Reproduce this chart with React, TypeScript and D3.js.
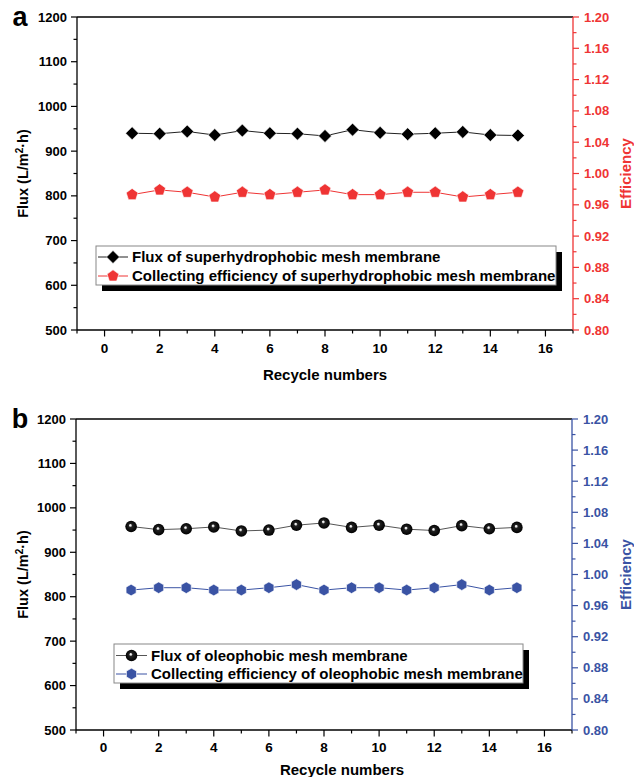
import React from "react";
import * as d3 from "d3";

const cycles = [1, 2, 3, 4, 5, 6, 7, 8, 9, 10, 11, 12, 13, 14, 15];
const fluxA = [940, 939, 944, 936, 946, 940, 939, 934, 948, 941, 938, 940, 943, 936, 935];
const effA = [0.973, 0.979, 0.976, 0.970, 0.976, 0.973, 0.976, 0.979, 0.973, 0.973, 0.976, 0.976, 0.970, 0.973, 0.976];
const fluxB = [958, 951, 953, 957, 948, 950, 961, 966, 956, 961, 952, 949, 960, 953, 956];
const effB = [0.980, 0.983, 0.983, 0.980, 0.980, 0.983, 0.987, 0.980, 0.983, 0.983, 0.980, 0.983, 0.987, 0.980, 0.983];
const fluxTicks = [500, 600, 700, 800, 900, 1000, 1100, 1200];
const effTicks = [0.8, 0.84, 0.88, 0.92, 0.96, 1.0, 1.04, 1.08, 1.12, 1.16, 1.2];
const xTicks = [0, 2, 4, 6, 8, 10, 12, 14, 16];
const legendA = ["Flux of superhydrophobic mesh membrane", "Collecting efficiency of superhydrophobic mesh membrane"];
const legendB = ["Flux of oleophobic mesh membrane", "Collecting efficiency of oleophobic mesh membrane"];

const RED = "#ef3434";
const BLUE = "#3a53a4";
const FONT = "'Liberation Sans', Arial, sans-serif";

function polyPath(n: number, r: number, rot: number) {
  const pts: [number, number][] = [];
  for (let i = 0; i < n; i++) {
    const a = rot + (i * 2 * Math.PI) / n;
    pts.push([r * Math.cos(a), r * Math.sin(a)]);
  }
  return "M" + pts.map((p) => p[0].toFixed(2) + "," + p[1].toFixed(2)).join("L") + "Z";
}
const diamond = polyPath(4, 6.5, -Math.PI / 2);
const pentagon = polyPath(5, 6.2, -Math.PI / 2);
const hexagon = polyPath(6, 5.8, -Math.PI / 2);

function Marker({ kind, x, y, color }: { kind: string; x: number; y: number; color: string }) {
  if (kind === "ball") {
    return <circle cx={x} cy={y} r={5.8} fill="url(#ballGrad)" />;
  }
  const d = kind === "diamond" ? diamond : kind === "pentagon" ? pentagon : hexagon;
  return <path d={d} transform={`translate(${x},${y})`} fill={color} stroke="white" strokeWidth={0.6} />;
}

type PanelProps = {
  label: string;
  left: number; right: number; top: number; bottom: number;
  flux: number[]; eff: number[];
  fluxMarker: string; effMarker: string; effColor: string;
  fluxLine: string;
  legend: string[];
  legBox: { x: number; y: number; w: number; h: number };
  legSym: { x0: number; x1: number };
  legRows: number[];
  xTitleX: number; xTitleY: number; xTickY: number;
};

function Panel(p: PanelProps) {
  const x = d3.scaleLinear().domain([-1, 17]).range([p.left, p.right]);
  const y = d3.scaleLinear().domain([500, 1200]).range([p.bottom, p.top]);
  const y2 = d3.scaleLinear().domain([0.8, 1.2]).range([p.bottom, p.top]);
  const fluxLine = d3.line<number>().x((_, i) => x(cycles[i])).y((v) => y(v))(p.flux) || "";
  const effLine = d3.line<number>().x((_, i) => x(cycles[i])).y((v) => y2(v))(p.eff) || "";
  const minorX = d3.range(-1, 18, 1).filter((v) => v % 2 !== 0);
  const minorY = d3.range(550, 1200, 100);
  const minorE = d3.range(0, 10).map((i) => 0.82 + i * 0.04);
  const midY = (p.top + p.bottom) / 2;
  const lx = (p.legSym.x0 + p.legSym.x1) / 2;
  return (
    <g fontFamily={FONT} fontWeight="bold">
      <text x={20} y={p.top + 9} fontSize={27} textAnchor="middle" fill="#000">{p.label}</text>
      {/* frame */}
      <line x1={p.left} x2={p.right} y1={p.top} y2={p.top} stroke="#000" strokeWidth={1.3} />
      <line x1={p.left} x2={p.right} y1={p.bottom} y2={p.bottom} stroke="#000" strokeWidth={1.3} />
      <line x1={p.left} x2={p.left} y1={p.top} y2={p.bottom} stroke="#000" strokeWidth={1.3} />
      <line x1={p.right} x2={p.right} y1={p.top} y2={p.bottom} stroke={p.effColor} strokeWidth={1.3} />
      {/* left ticks */}
      {fluxTicks.map((t) => (
        <g key={"fy" + t}>
          <line x1={p.left - 6} x2={p.left} y1={y(t)} y2={y(t)} stroke="#000" strokeWidth={1.2} />
          <text x={p.left - 10} y={y(t) + 4.5} fontSize={13} textAnchor="end">{t}</text>
        </g>
      ))}
      {minorY.map((t) => (
        <line key={"my" + t} x1={p.left - 3.5} x2={p.left} y1={y(t)} y2={y(t)} stroke="#000" strokeWidth={1.2} />
      ))}
      {/* x ticks */}
      {xTicks.map((t) => (
        <g key={"x" + t}>
          <line x1={x(t)} x2={x(t)} y1={p.bottom} y2={p.bottom + 6.5} stroke="#000" strokeWidth={1.2} />
          <text x={x(t)} y={p.xTickY} fontSize={13.5} textAnchor="middle">{t}</text>
        </g>
      ))}
      {minorX.map((t) => (
        <line key={"mx" + t} x1={x(t)} x2={x(t)} y1={p.bottom} y2={p.bottom + 3.5} stroke="#000" strokeWidth={1.2} />
      ))}
      {/* right ticks */}
      {effTicks.map((t) => (
        <g key={"e" + t}>
          <line x1={p.right} x2={p.right + 6} y1={y2(t)} y2={y2(t)} stroke={p.effColor} strokeWidth={1.2} />
          <text x={p.right + 11} y={y2(t) + 4.5} fontSize={13} fill={p.effColor}>{t.toFixed(2)}</text>
        </g>
      ))}
      {minorE.map((t) => (
        <line key={"me" + t} x1={p.right} x2={p.right + 3.5} y1={y2(t)} y2={y2(t)} stroke={p.effColor} strokeWidth={1.2} />
      ))}
      {/* titles */}
      <text x={p.xTitleX} y={p.xTitleY} fontSize={15} textAnchor="middle">Recycle numbers</text>
      <text transform={`translate(27.5,${midY}) rotate(-90)`} fontSize={14.5} textAnchor="middle">
        Flux (L/m<tspan dy={-5} fontSize={10}>2</tspan><tspan dy={5}>·h)</tspan>
      </text>
      <text transform={`translate(631,${midY}) rotate(-90)`} fontSize={15} textAnchor="middle" fill={p.effColor}>Efficiency</text>
      {/* series */}
      <path d={fluxLine} fill="none" stroke={p.fluxLine} strokeWidth={1} />
      <path d={effLine} fill="none" stroke={p.effColor} strokeWidth={1} />
      {p.flux.map((v, i) => (
        <Marker key={"f" + i} kind={p.fluxMarker} x={x(cycles[i])} y={y(v)} color="#000" />
      ))}
      {p.eff.map((v, i) => (
        <Marker key={"ef" + i} kind={p.effMarker} x={x(cycles[i])} y={y2(v)} color={p.effColor} />
      ))}
      {/* legend */}
      <rect x={p.legBox.x + 6} y={p.legBox.y + 6} width={p.legBox.w} height={p.legBox.h} fill="#000" />
      <rect x={p.legBox.x} y={p.legBox.y} width={p.legBox.w} height={p.legBox.h} fill="#fff" stroke="#888" strokeWidth={1} />
      {p.legend.map((s, i) => (
        <g key={"l" + i}>
          <line x1={p.legSym.x0} x2={p.legSym.x1} y1={p.legRows[i]} y2={p.legRows[i]} stroke={i === 0 ? p.fluxLine : p.effColor} strokeWidth={1} />
          <Marker kind={i === 0 ? p.fluxMarker : p.effMarker} x={lx} y={p.legRows[i]} color={i === 0 ? "#000" : p.effColor} />
          <text x={p.legSym.x1 + 4} y={p.legRows[i] + 5.3} fontSize={15}>{s}</text>
        </g>
      ))}
    </g>
  );
}

export default function App() {
  return (
    <svg width={634} height={777} style={{ display: "block", position: "absolute", left: 0, top: 0 }}>
      <defs>
        <radialGradient id="ballGrad" cx="0.5" cy="0.5" r="0.5" fx="0.42" fy="0.38">
          <stop offset="0%" stopColor="#ffffff" />
          <stop offset="14%" stopColor="#e0e0e0" />
          <stop offset="32%" stopColor="#222" />
          <stop offset="100%" stopColor="#000" />
        </radialGradient>
      </defs>
      <rect width={634} height={777} fill="#fff" />
      <Panel
        label="a" left={77} right={573} top={17} bottom={330}
        flux={fluxA} eff={effA} fluxMarker="diamond" effMarker="pentagon" effColor={RED} fluxLine="#222"
        legend={legendA}
        legBox={{ x: 96, y: 246, w: 460, h: 39 }}
        legSym={{ x0: 98, x1: 128 }}
        legRows={[257, 276]}
        xTitleX={325} xTitleY={380} xTickY={353}
      />
      <Panel
        label="b" left={76} right={572} top={419} bottom={730}
        flux={fluxB} eff={effB} fluxMarker="ball" effMarker="hexagon" effColor={BLUE} fluxLine="#555"
        legend={legendB}
        legBox={{ x: 114, y: 644, w: 409, h: 39 }}
        legSym={{ x0: 116, x1: 147 }}
        legRows={[655.5, 674]}
        xTitleX={342} xTitleY={775} xTickY={752}
      />
    </svg>
  );
}
